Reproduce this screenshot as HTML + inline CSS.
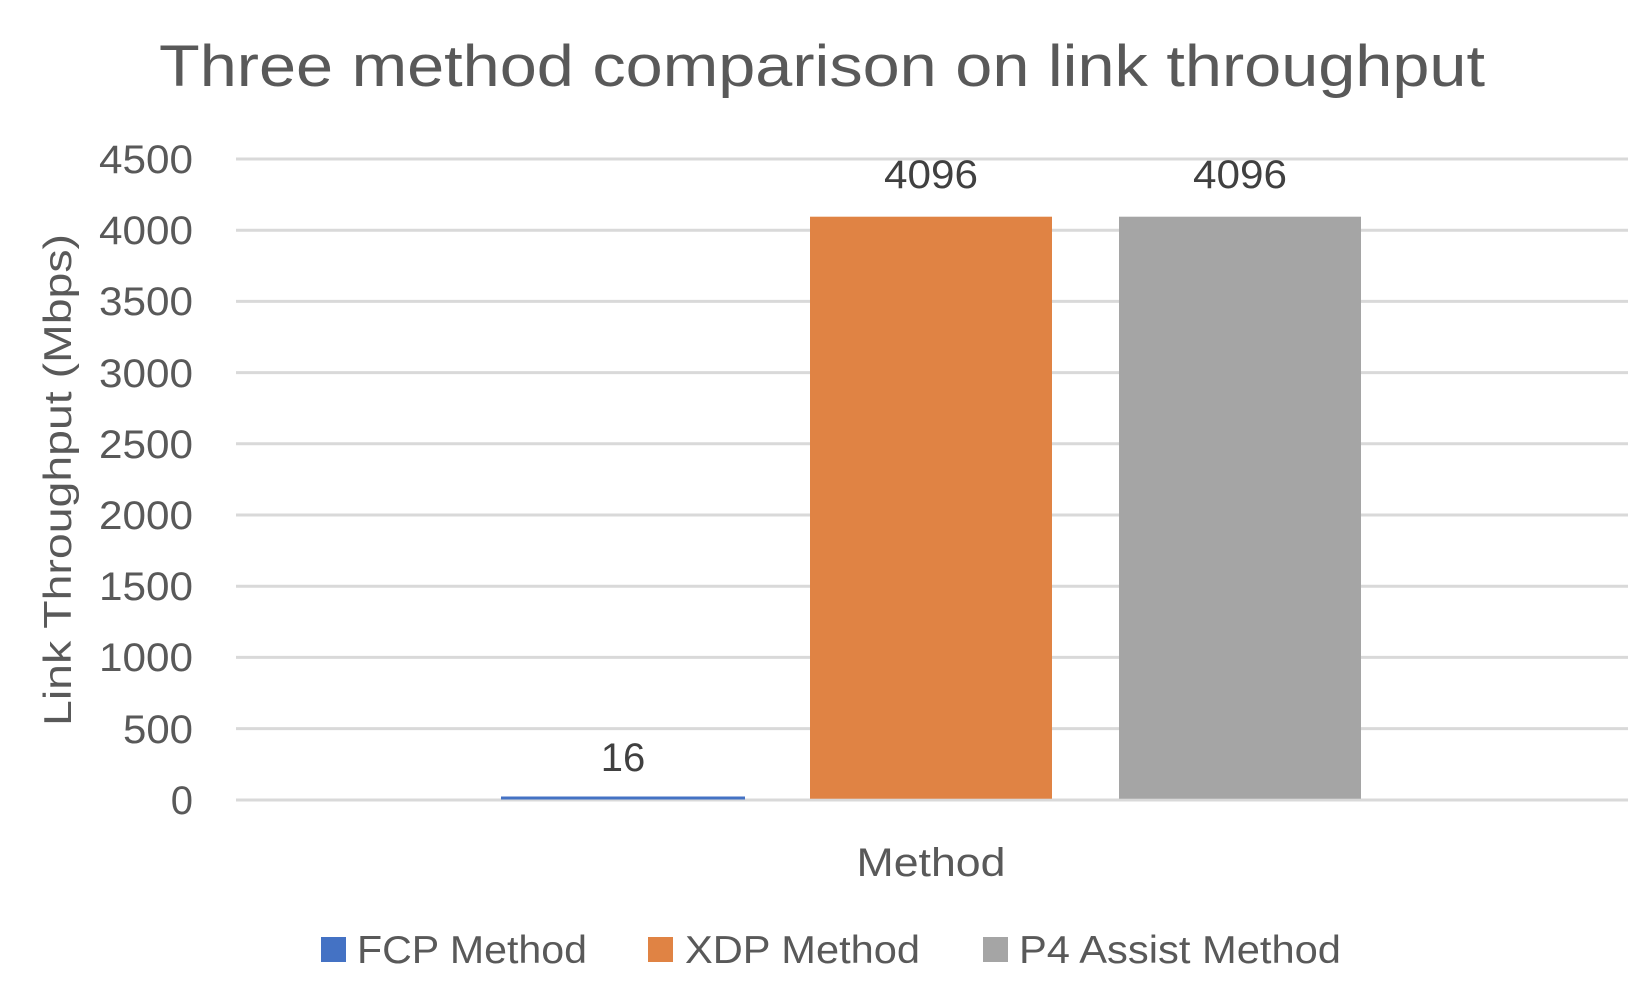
<!DOCTYPE html>
<html><head><style>html,body{margin:0;padding:0;background:#fff}</style></head>
<body>
<svg width="1630" height="990" viewBox="0 0 1630 990" xmlns="http://www.w3.org/2000/svg" font-family="Liberation Sans, sans-serif" fill="#595959">
<rect width="1630" height="990" fill="#fff"/>
<text x="159" y="86" font-size="58" textLength="1326" lengthAdjust="spacingAndGlyphs">Three method comparison on link throughput</text>
<g stroke="#d9d9d9" stroke-width="3">
<line x1="236" x2="1628" y1="159" y2="159"/>
<line x1="236" x2="1628" y1="230.2" y2="230.2"/>
<line x1="236" x2="1628" y1="301.4" y2="301.4"/>
<line x1="236" x2="1628" y1="372.6" y2="372.6"/>
<line x1="236" x2="1628" y1="443.8" y2="443.8"/>
<line x1="236" x2="1628" y1="515" y2="515"/>
<line x1="236" x2="1628" y1="586.2" y2="586.2"/>
<line x1="236" x2="1628" y1="657.4" y2="657.4"/>
<line x1="236" x2="1628" y1="728.6" y2="728.6"/>
<line x1="236" x2="1628" y1="800" y2="800"/>
</g>
<g font-size="40" text-anchor="end">
<text x="193" y="173" textLength="94" lengthAdjust="spacingAndGlyphs">4500</text>
<text x="193" y="244" textLength="94" lengthAdjust="spacingAndGlyphs">4000</text>
<text x="193" y="315" textLength="94" lengthAdjust="spacingAndGlyphs">3500</text>
<text x="193" y="387" textLength="94" lengthAdjust="spacingAndGlyphs">3000</text>
<text x="193" y="458" textLength="94" lengthAdjust="spacingAndGlyphs">2500</text>
<text x="193" y="529" textLength="94" lengthAdjust="spacingAndGlyphs">2000</text>
<text x="193" y="600" textLength="94" lengthAdjust="spacingAndGlyphs">1500</text>
<text x="193" y="671" textLength="94" lengthAdjust="spacingAndGlyphs">1000</text>
<text x="193" y="743" textLength="70" lengthAdjust="spacingAndGlyphs">500</text>
<text x="193" y="814">0</text>
</g>
<rect x="501" y="796.5" width="244" height="3" fill="#4472c4"/>
<rect x="810" y="216.7" width="242" height="582" fill="#e08344"/>
<rect x="1119" y="216.7" width="242" height="582" fill="#a5a5a5"/>
<g font-size="40" text-anchor="middle" fill="#404040">
<text x="931" y="188" textLength="94" lengthAdjust="spacingAndGlyphs">4096</text>
<text x="1240" y="188" textLength="94" lengthAdjust="spacingAndGlyphs">4096</text>
<text x="623" y="771">16</text>
</g>
<text x="931" y="876" font-size="40" text-anchor="middle" textLength="149" lengthAdjust="spacingAndGlyphs">Method</text>
<text transform="translate(71,480) rotate(-90)" font-size="39" text-anchor="middle" textLength="492" lengthAdjust="spacingAndGlyphs">Link Throughput (Mbps)</text>
<rect x="321" y="937" width="25" height="25" fill="#4472c4"/>
<text x="357" y="963" font-size="39" textLength="230" lengthAdjust="spacingAndGlyphs">FCP Method</text>
<rect x="648" y="937" width="25" height="25" fill="#e08344"/>
<text x="685" y="963" font-size="39" textLength="235" lengthAdjust="spacingAndGlyphs">XDP Method</text>
<rect x="983" y="937" width="25" height="25" fill="#a5a5a5"/>
<text x="1019" y="963" font-size="39" textLength="322" lengthAdjust="spacingAndGlyphs">P4 Assist Method</text>
</svg>
</body></html>
